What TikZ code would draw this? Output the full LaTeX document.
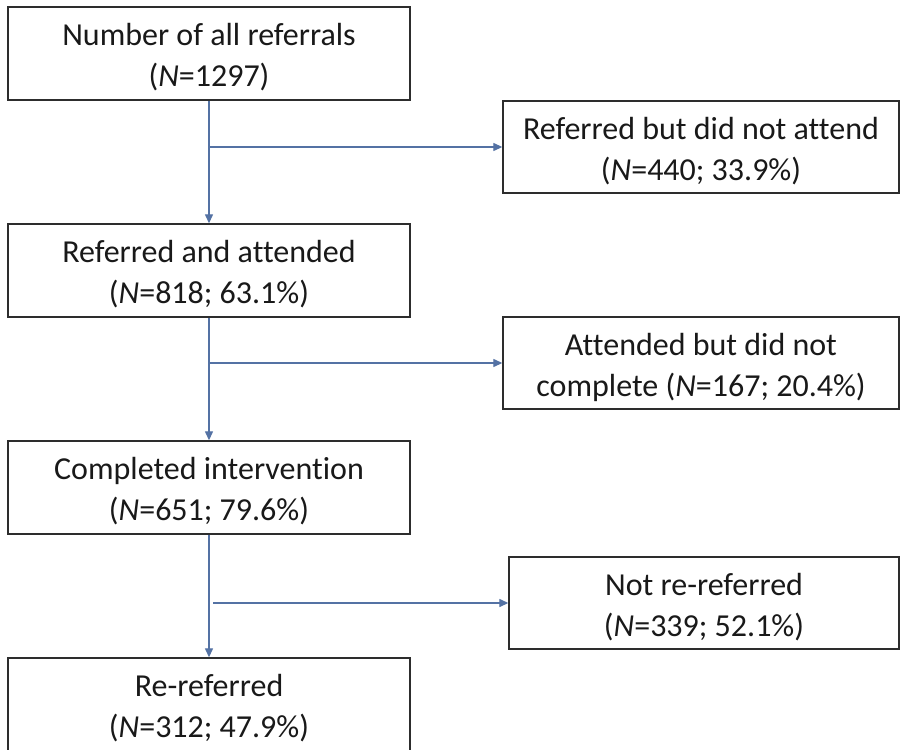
\documentclass[tikz,border=0pt]{standalone}
\usepackage{fontspec}
\setmainfont{Carlito}[Ligatures={NoCommon}]
\usetikzlibrary{arrows.meta}
\definecolor{linkcol}{RGB}{84,114,164}
\definecolor{boxcol}{RGB}{45,45,45}
\tikzset{
  flowbox/.style={draw=boxcol, line width=1.4pt, rectangle, inner sep=0pt},
  mainbox/.style={flowbox, minimum width=402pt, minimum height=93pt},
  sidebox/.style={flowbox, minimum height=92pt},
  boxtext/.style={align=center, inner sep=0pt, yshift=-4pt,
    font=\fontsize{32}{41}\selectfont, text=black!90},
  link/.style={draw=linkcol, line width=1.3pt, -{Triangle[length=9pt,width=8pt]}}
}
\begin{document}
\begin{tikzpicture}[x=1pt,y=-1pt]
\fill[white] (0,0) rectangle (901,749);
\useasboundingbox (0,0) rectangle (901,749);
\begin{scope}
\clip (0,0) rectangle (901,749);
\node[mainbox] (b1) at (209,53.5) {};
\node[mainbox] (b2) at (209,270.5) {};
\node[mainbox] (b3) at (209,487.5) {};
\node[mainbox] (b4) at (209,704.5) {};
\node[sidebox, minimum width=396pt] (r1) at (701,147) {};
\node[sidebox, minimum width=396pt] (r2) at (701,363) {};
\node[sidebox, minimum width=390pt] (r3) at (704,603) {};
\node[boxtext] (t1) at (b1) {Number of all referrals\\(\textit{N}=1297)};
\node[boxtext] (t2) at (b2) {Referred and attended\\(\textit{N}=818; 63.1\%)};
\node[boxtext] (t3) at (b3) {Completed intervention\\(\textit{N}=651; 79.6\%)};
\node[boxtext] (t4) at (b4) {Re-referred\\(\textit{N}=312; 47.9\%)};
\node[boxtext] (u1) at (r1) {Referred but did not attend\\(\textit{N}=440; 33.9\%)};
\node[boxtext] (u2) at (r2) {Attended but did not\\complete (\textit{N}=167; 20.4\%)};
\node[boxtext] (u3) at (r3) {Not re-referred\\(\textit{N}=339; 52.1\%)};
\end{scope}
\draw[link] (b1) -- (b2);
\draw[link] (b2) -- (b3);
\draw[link] (b3) -- (b4);
\coordinate (j1) at (b1.south |- r1.west);
\coordinate (j2) at (b2.south |- r2.west);
\coordinate (j3) at ([xshift=4pt]b3.south |- r3.west);
\draw[link] (j1) -- (r1.west);
\draw[link] (j2) -- (r2.west);
\draw[link] (j3) -- (r3.west);
\end{tikzpicture}
\end{document}
